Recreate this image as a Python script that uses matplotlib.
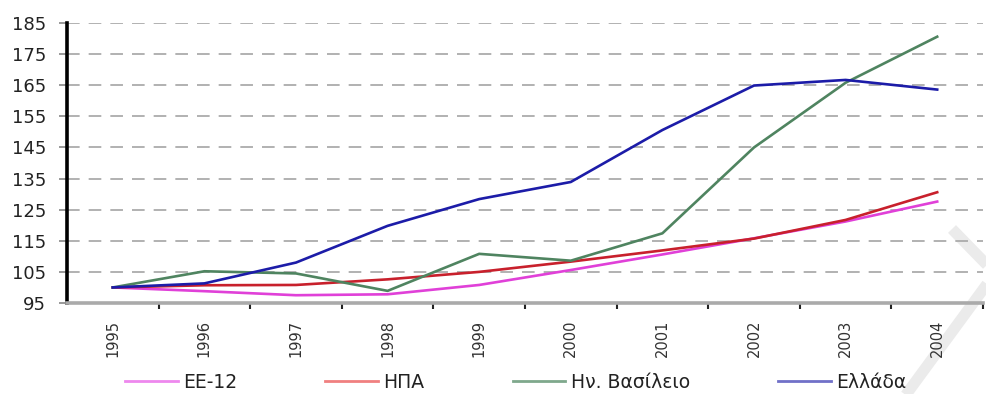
import matplotlib
matplotlib.use("Agg")
import matplotlib.pyplot as plt
from matplotlib.lines import Line2D

years = ["1995", "1996", "1997", "1998", "1999", "2000", "2001", "2002", "2003", "2004"]
ee12 = [100, 98.8, 97.5, 97.8, 100.8, 105.6, 110.6, 115.8, 121.2, 127.6]
hpa = [100, 100.7, 100.8, 102.6, 105.0, 108.3, 111.9, 115.7, 121.7, 130.6]
uk = [100, 105.2, 104.5, 98.9, 110.8, 108.6, 117.4, 145.0, 165.8, 180.6]
greece = [100, 101.3, 108.0, 119.8, 128.4, 133.9, 150.6, 164.9, 166.7, 163.6]

series_names = ["ΕΕ-12", "ΗΠΑ", "Ην. Βασίλειο", "Ελλάδα"]
line_colors = ["#e040d8", "#c8202c", "#4f8460", "#1c1ca8"]
legend_colors = ["#ee88ee", "#f08080", "#7fa88c", "#7070c8"]
yticks = [95, 105, 115, 125, 135, 145, 155, 165, 175, 185]

W, H = 987, 394
fig = plt.figure(figsize=(W / 100, H / 100), dpi=100)
fig.patch.set_facecolor("white")

# faint watermark strokes in the lower right corner
fig.add_artist(Line2D([952 / W, 990 / W], [1 - 229 / H, 1 - 268 / H], transform=fig.transFigure,
                      color="#ebebeb", lw=8, solid_capstyle="butt", zorder=0))
fig.add_artist(Line2D([990 / W, 905 / W], [1 - 280 / H, 1 - 396 / H], transform=fig.transFigure,
                      color="#ebebeb", lw=8, solid_capstyle="butt", zorder=0))

left, right = 67 / W, 983 / W
top, bottom = 1 - 23 / H, 1 - 303 / H
ax = fig.add_axes([left, bottom, right - left, top - bottom])
ax.set_facecolor("none")

x = list(range(len(years)))
for vals, col in zip([ee12, hpa, uk, greece], line_colors):
    ax.plot(x, vals, color=col, lw=1.9, solid_joinstyle="round", zorder=3)

ax.set_xlim(-0.5, len(years) - 0.5)
ax.set_ylim(95, 185)

# horizontal dashed grid
for v in yticks[1:]:
    ax.axhline(v, color="#ababab", lw=1.3, ls=(0, (7, 5)), zorder=1)

ax.set_yticks(yticks)
ax.set_yticklabels([str(v) for v in yticks], fontsize=13, color="#222222", family="DejaVu Sans")
ax.tick_params(axis="y", length=6, width=1.2, color="#888888", pad=9)

ax.set_xticks(x)
ax.set_xticklabels(years, rotation=90, fontsize=10.5, color="#333333")
ax.tick_params(axis="x", length=0, pad=12)
ax.set_xticks([i - 0.5 for i in range(1, len(years) + 1)], minor=True)
ax.tick_params(axis="x", which="minor", length=4, width=1.5, color="#222222", direction="out")

for s in ["top", "right"]:
    ax.spines[s].set_visible(False)
ax.spines["left"].set_color("black")
ax.spines["left"].set_linewidth(2.6)
ax.spines["bottom"].set_color("#aaaaaa")
ax.spines["bottom"].set_linewidth(2.6)

handles = [Line2D([0], [0], color=c, lw=2) for c in legend_colors]
leg = fig.legend(handles, series_names, loc="center left", bbox_to_anchor=(125 / W, 1 - 382 / H),
                 ncol=4, frameon=False, fontsize=13.5, handlelength=2.8, handletextpad=0.3,
                 columnspacing=4.7, borderaxespad=0, borderpad=0)
for t in leg.get_texts():
    t.set_color("#222222")

fig.savefig("out.png", dpi=100, facecolor="white")
